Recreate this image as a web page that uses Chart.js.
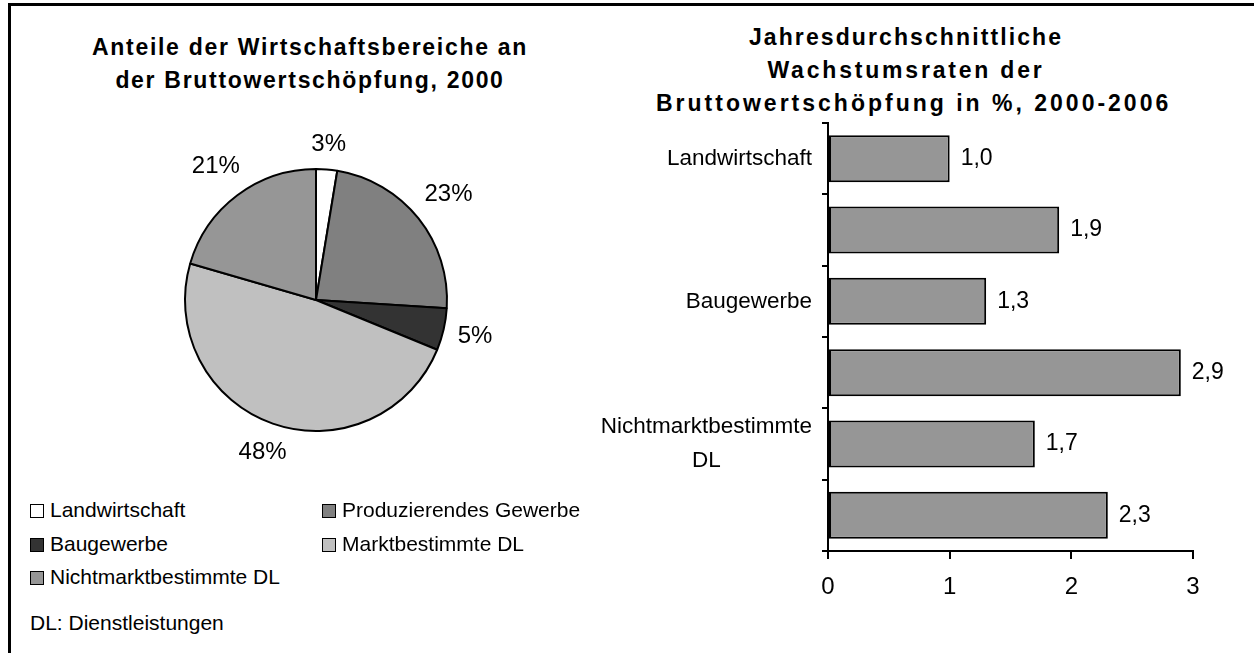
<!DOCTYPE html>
<html><head><meta charset="utf-8">
<script src="https://cdn.jsdelivr.net/npm/chart.js@4"></script>
<style>
body{margin:0;background:#fff;}
#wrap{position:relative;width:1254px;height:653px;overflow:hidden;background:#fff;font-family:'Liberation Sans',Arial,sans-serif;color:#000;}
#frame{position:absolute;left:8px;top:3px;width:1300px;height:700px;border-left:3px solid #000;border-top:3px solid #000;box-sizing:border-box;}
.title{position:absolute;font-weight:bold;font-size:23px;line-height:33px;text-align:center;white-space:nowrap;}
.title div{white-space:nowrap;}
#t1{left:60px;width:500px;top:31px;letter-spacing:1.7px;}
#t2{left:656px;width:500px;top:21px;}
canvas{position:absolute;}
#pie{left:100px;top:110px;}
#bar{left:560px;top:110px;}
.leg{position:absolute;font-size:21px;line-height:24px;white-space:nowrap;}
.leg span.box{display:inline-block;width:12px;height:12px;border:1px solid #000;margin-right:6px;vertical-align:-1px;}
#note{position:absolute;left:30px;top:611px;font-size:21px;line-height:24px;white-space:nowrap;}
</style></head>
<body><div id="wrap">
<div id="frame"></div>
<div class="title" id="t1"></div>
<div class="title" id="t2"></div>
<canvas id="pie" width="432" height="380"></canvas>
<canvas id="bar" width="694" height="543"></canvas>
<div id="legend"></div>
<div id="note"></div>
</div>
<script>
// ---- data ----
const pieTitle = ['Anteile der Wirtschaftsbereiche an', 'der Bruttowertschöpfung, 2000'];
const pieLabels = ['Landwirtschaft', 'Produzierendes Gewerbe', 'Baugewerbe', 'Marktbestimmte DL', 'Nichtmarktbestimmte DL'];
const pieValues = [2.6, 23.4, 5.2, 48.3, 20.5];
const pieColors = ['#ffffff', '#808080', '#333333', '#c0c0c0', '#969696'];
const noteText = 'DL: Dienstleistungen';

const barTitle = ['Jahresdurchschnittliche', 'Wachstumsraten der', 'Bruttowertschöpfung in %, 2000-2006'];
const barCategories = ['Landwirtschaft', 'Produzierendes Gewerbe', 'Baugewerbe', 'Marktbestimmte DL', 'Nichtmarktbestimmte DL', 'Insgesamt'];
const barValues = [1.0, 1.9, 1.3, 2.9, 1.7, 2.3];
const barAxisLabels = [['Landwirtschaft'], [], ['Baugewerbe'], [], ['Nichtmarktbestimmte', 'DL'], []];
const xTicks = [0, 1, 2, 3];

const FONT = "'Liberation Sans', Arial, sans-serif";

document.getElementById('t1').innerHTML = pieTitle.join('<br>');
const titleSpacing = [2.1, 2.8, 3.0];
const t2 = document.getElementById('t2');
barTitle.forEach((line, i) => {
  const d = document.createElement('div');
  d.textContent = line;
  d.style.letterSpacing = titleSpacing[i] + 'px';
  t2.appendChild(d);
});
document.getElementById('note').textContent = noteText;

// legend
const legend = document.getElementById('legend');
pieLabels.forEach((lab, i) => {
  const d = document.createElement('div');
  d.className = 'leg';
  const col = i % 2, row = Math.floor(i / 2);
  d.style.left = (col === 0 ? 30 : 322) + 'px';
  d.style.top = (498 + row * 33.5) + 'px';
  d.innerHTML = '<span class="box" style="background:' + pieColors[i] + '"></span>' + lab;
  legend.appendChild(d);
});

// pie labels plugin
const pieLabelPlugin = {
  id: 'pieLabels',
  afterDatasetsDraw(chart) {
    const ctx = chart.ctx;
    const meta = chart.getDatasetMeta(0);
    ctx.save();
    ctx.font = '24px ' + FONT;
    ctx.fillStyle = '#000';
    ctx.textAlign = 'center';
    ctx.textBaseline = 'middle';
    meta.data.forEach((arc, i) => {
      const p = arc.getProps(['x', 'y', 'startAngle', 'endAngle', 'outerRadius']);
      const mid = (p.startAngle + p.endAngle) / 2;
      const txt = Math.round(pieValues[i]) + '%';
      const w = ctx.measureText(txt).width;
      const c = Math.cos(mid), s = Math.sin(mid);
      const d = p.outerRadius + 13 + Math.abs(c) * w / 2 + Math.abs(s) * 10.5;
      ctx.fillText(txt, p.x + c * d, p.y + s * d);
    });
    ctx.restore();
  }
};

new Chart(document.getElementById('pie'), {
  type: 'pie',
  data: {
    labels: pieLabels,
    datasets: [{ data: pieValues, backgroundColor: pieColors, borderColor: '#000', borderWidth: 2 }]
  },
  options: {
    responsive: false, animation: false, devicePixelRatio: 1,
    layout: { padding: { left: 84, right: 84, top: 58, bottom: 58 } },
    plugins: { legend: { display: false }, tooltip: { enabled: false } }
  },
  plugins: [pieLabelPlugin]
});

// bar plugin: data labels and category labels
const barLabelPlugin = {
  id: 'barLabels',
  afterDraw(chart) {
    const ctx = chart.ctx;
    const meta = chart.getDatasetMeta(0);
    const ys = chart.scales.y;
    ctx.save();
    ctx.fillStyle = '#000';
    ctx.textBaseline = 'middle';
    ctx.textAlign = 'left';
    ctx.font = '23px ' + FONT;
    meta.data.forEach((bar, i) => {
      const txt = barValues[i].toFixed(1).replace('.', ',');
      ctx.fillText(txt, bar.x + 11, bar.y);
    });
    ctx.font = '22.5px ' + FONT;
    const right = chart.chartArea.left - 16;
    const lh = 34;
    barAxisLabels.forEach((lines, i) => {
      if (!lines.length) return;
      const yc = ys.getPixelForValue(i);
      const bw = Math.max(...lines.map(l => ctx.measureText(l).width));
      const cx = right - bw / 2;
      ctx.textAlign = 'center';
      lines.forEach((l, k) => {
        ctx.fillText(l, cx, yc + (k - (lines.length - 1) / 2) * lh);
      });
    });
    ctx.restore();
  }
};

new Chart(document.getElementById('bar'), {
  type: 'bar',
  data: {
    labels: barCategories,
    datasets: [{
      data: barValues, backgroundColor: '#969696', borderColor: '#000', borderWidth: 2,
      borderSkipped: false, barPercentage: 0.66, categoryPercentage: 1
    }]
  },
  options: {
    indexAxis: 'y',
    responsive: false, animation: false, devicePixelRatio: 1,
    layout: { padding: { top: 13, right: 61, left: 0, bottom: 0 } },
    plugins: { legend: { display: false }, tooltip: { enabled: false } },
    scales: {
      y: {
        type: 'category',
        ticks: { display: false },
        grid: { drawOnChartArea: false, drawTicks: true, tickLength: 6, color: '#000', lineWidth: 2, offset: true },
        border: { display: true, color: '#000', width: 2 },
        afterFit(s) { s.width = 268; }
      },
      x: {
        type: 'linear', min: xTicks[0], max: xTicks[xTicks.length - 1],
        afterBuildTicks(s) { s.ticks = xTicks.map(v => ({ value: v })); },
        ticks: { font: { family: FONT, size: 24 }, color: '#000', padding: 14, callback: v => String(v) },
        grid: { drawOnChartArea: false, drawTicks: true, tickLength: 8, color: '#000', lineWidth: 2 },
        border: { display: true, color: '#000', width: 2 },
        afterFit(s) { s.height = 102; }
      }
    }
  },
  plugins: [barLabelPlugin]
});
</script>
</body></html>
